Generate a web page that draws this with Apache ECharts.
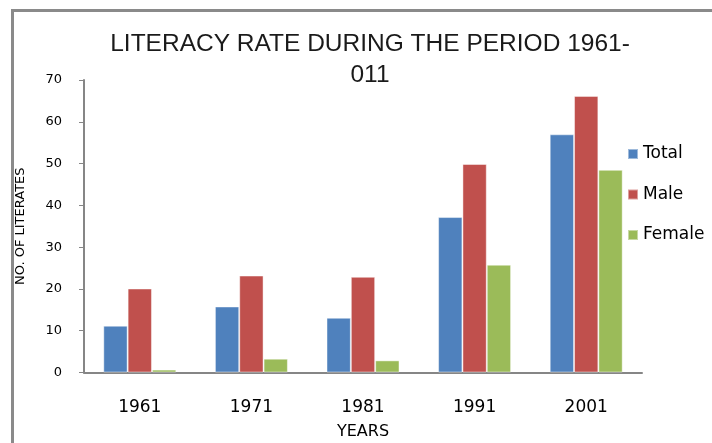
<!DOCTYPE html>
<html>
<head>
<meta charset="utf-8">
<script src="https://cdn.jsdelivr.net/npm/echarts@6/dist/echarts.min.js"></script>
<style>
html,body{margin:0;padding:0;background:#fff;}
#chart{width:712px;height:443px;}
</style>
</head>
<body>
<div id="chart"></div>
<script>
var years = ['1961', '1971', '1981', '1991', '2001'];
var totalValues = [11.2, 15.8, 13.1, 37.2, 57.0];
var maleValues = [20.1, 23.2, 22.9, 49.9, 66.2];
var femaleValues = [0.7, 3.3, 2.9, 25.8, 48.5];
var seriesNames = ['Total', 'Male', 'Female'];
var yTicks = [0, 10, 20, 30, 40, 50, 60, 70];

var chart = echarts.init(document.getElementById('chart'));
var colors = ['#4F81BD', '#C0504D', '#9BBB59'];
var seriesData = [totalValues, maleValues, femaleValues];

chart.setOption({
  animation: false,
  backgroundColor: '#fff',
  title: {
    text: 'LITERACY RATE DURING THE PERIOD 1961-\n011',
    left: 370,
    textAlign: 'center',
    top: 29,
    padding: 0,
    textStyle: {
      fontFamily: 'Liberation Sans, Arial',
      fontWeight: 'normal',
      fontSize: 24.5,
      lineHeight: 31,
      color: '#1a1a1a'
    }
  },
  legend: {
    orient: 'vertical',
    left: 627,
    top: 144,
    padding: 0,
    itemWidth: 10,
    itemHeight: 10,
    itemGap: 20.5,
    icon: 'rect',
    data: seriesNames,
    textStyle: {
      fontFamily: 'DejaVu Sans',
      fontSize: 17,
      lineHeight: 20,
      color: '#000'
    }
  },
  graphic: [{
    type: 'polyline',
    shape: {points: [[12.5, 443], [12.5, 10.5], [712, 10.5]]},
    style: {stroke: '#8a8a8a', lineWidth: 3, fill: null},
    silent: true
  }],
  grid: {left: 84, right: 70, top: 80, bottom: 70.5, outerBoundsMode: 'none', containLabel: false},
  xAxis: {
    type: 'category',
    data: years,
    name: 'YEARS',
    nameLocation: 'middle',
    nameGap: 51,
    nameTextStyle: {fontFamily: 'DejaVu Sans', fontSize: 16, color: '#000'},
    axisLine: {lineStyle: {color: '#868686', width: 2}},
    axisTick: {show: false},
    axisLabel: {margin: 27, fontFamily: 'DejaVu Sans', fontSize: 17, color: '#000'}
  },
  yAxis: {
    type: 'value',
    min: 0,
    max: 70,
    interval: 10,
    name: 'NO. OF LITERATES',
    nameLocation: 'middle',
    nameGap: 57,
    nameTextStyle: {fontFamily: 'DejaVu Sans', fontSize: 13, color: '#000'},
    axisLine: {show: true, lineStyle: {color: '#868686', width: 2}},
    axisTick: {show: true, length: 5, lineStyle: {color: '#868686', width: 1}},
    splitLine: {show: false},
    axisLabel: {
      margin: 22,
      fontFamily: 'DejaVu Sans',
      fontSize: 13,
      color: '#000',
      formatter: function (v) { return yTicks.indexOf(v) >= 0 ? String(v) : ''; }
    }
  },
  series: seriesNames.map(function (n, i) {
    return {
      name: n,
      type: 'bar',
      data: seriesData[i],
      barGap: '0%',
      barCategoryGap: '34.6%',
      itemStyle: {color: colors[i], borderColor: 'rgba(255,255,255,0.45)', borderWidth: 1}
    };
  })
});
</script>
</body>
</html>
